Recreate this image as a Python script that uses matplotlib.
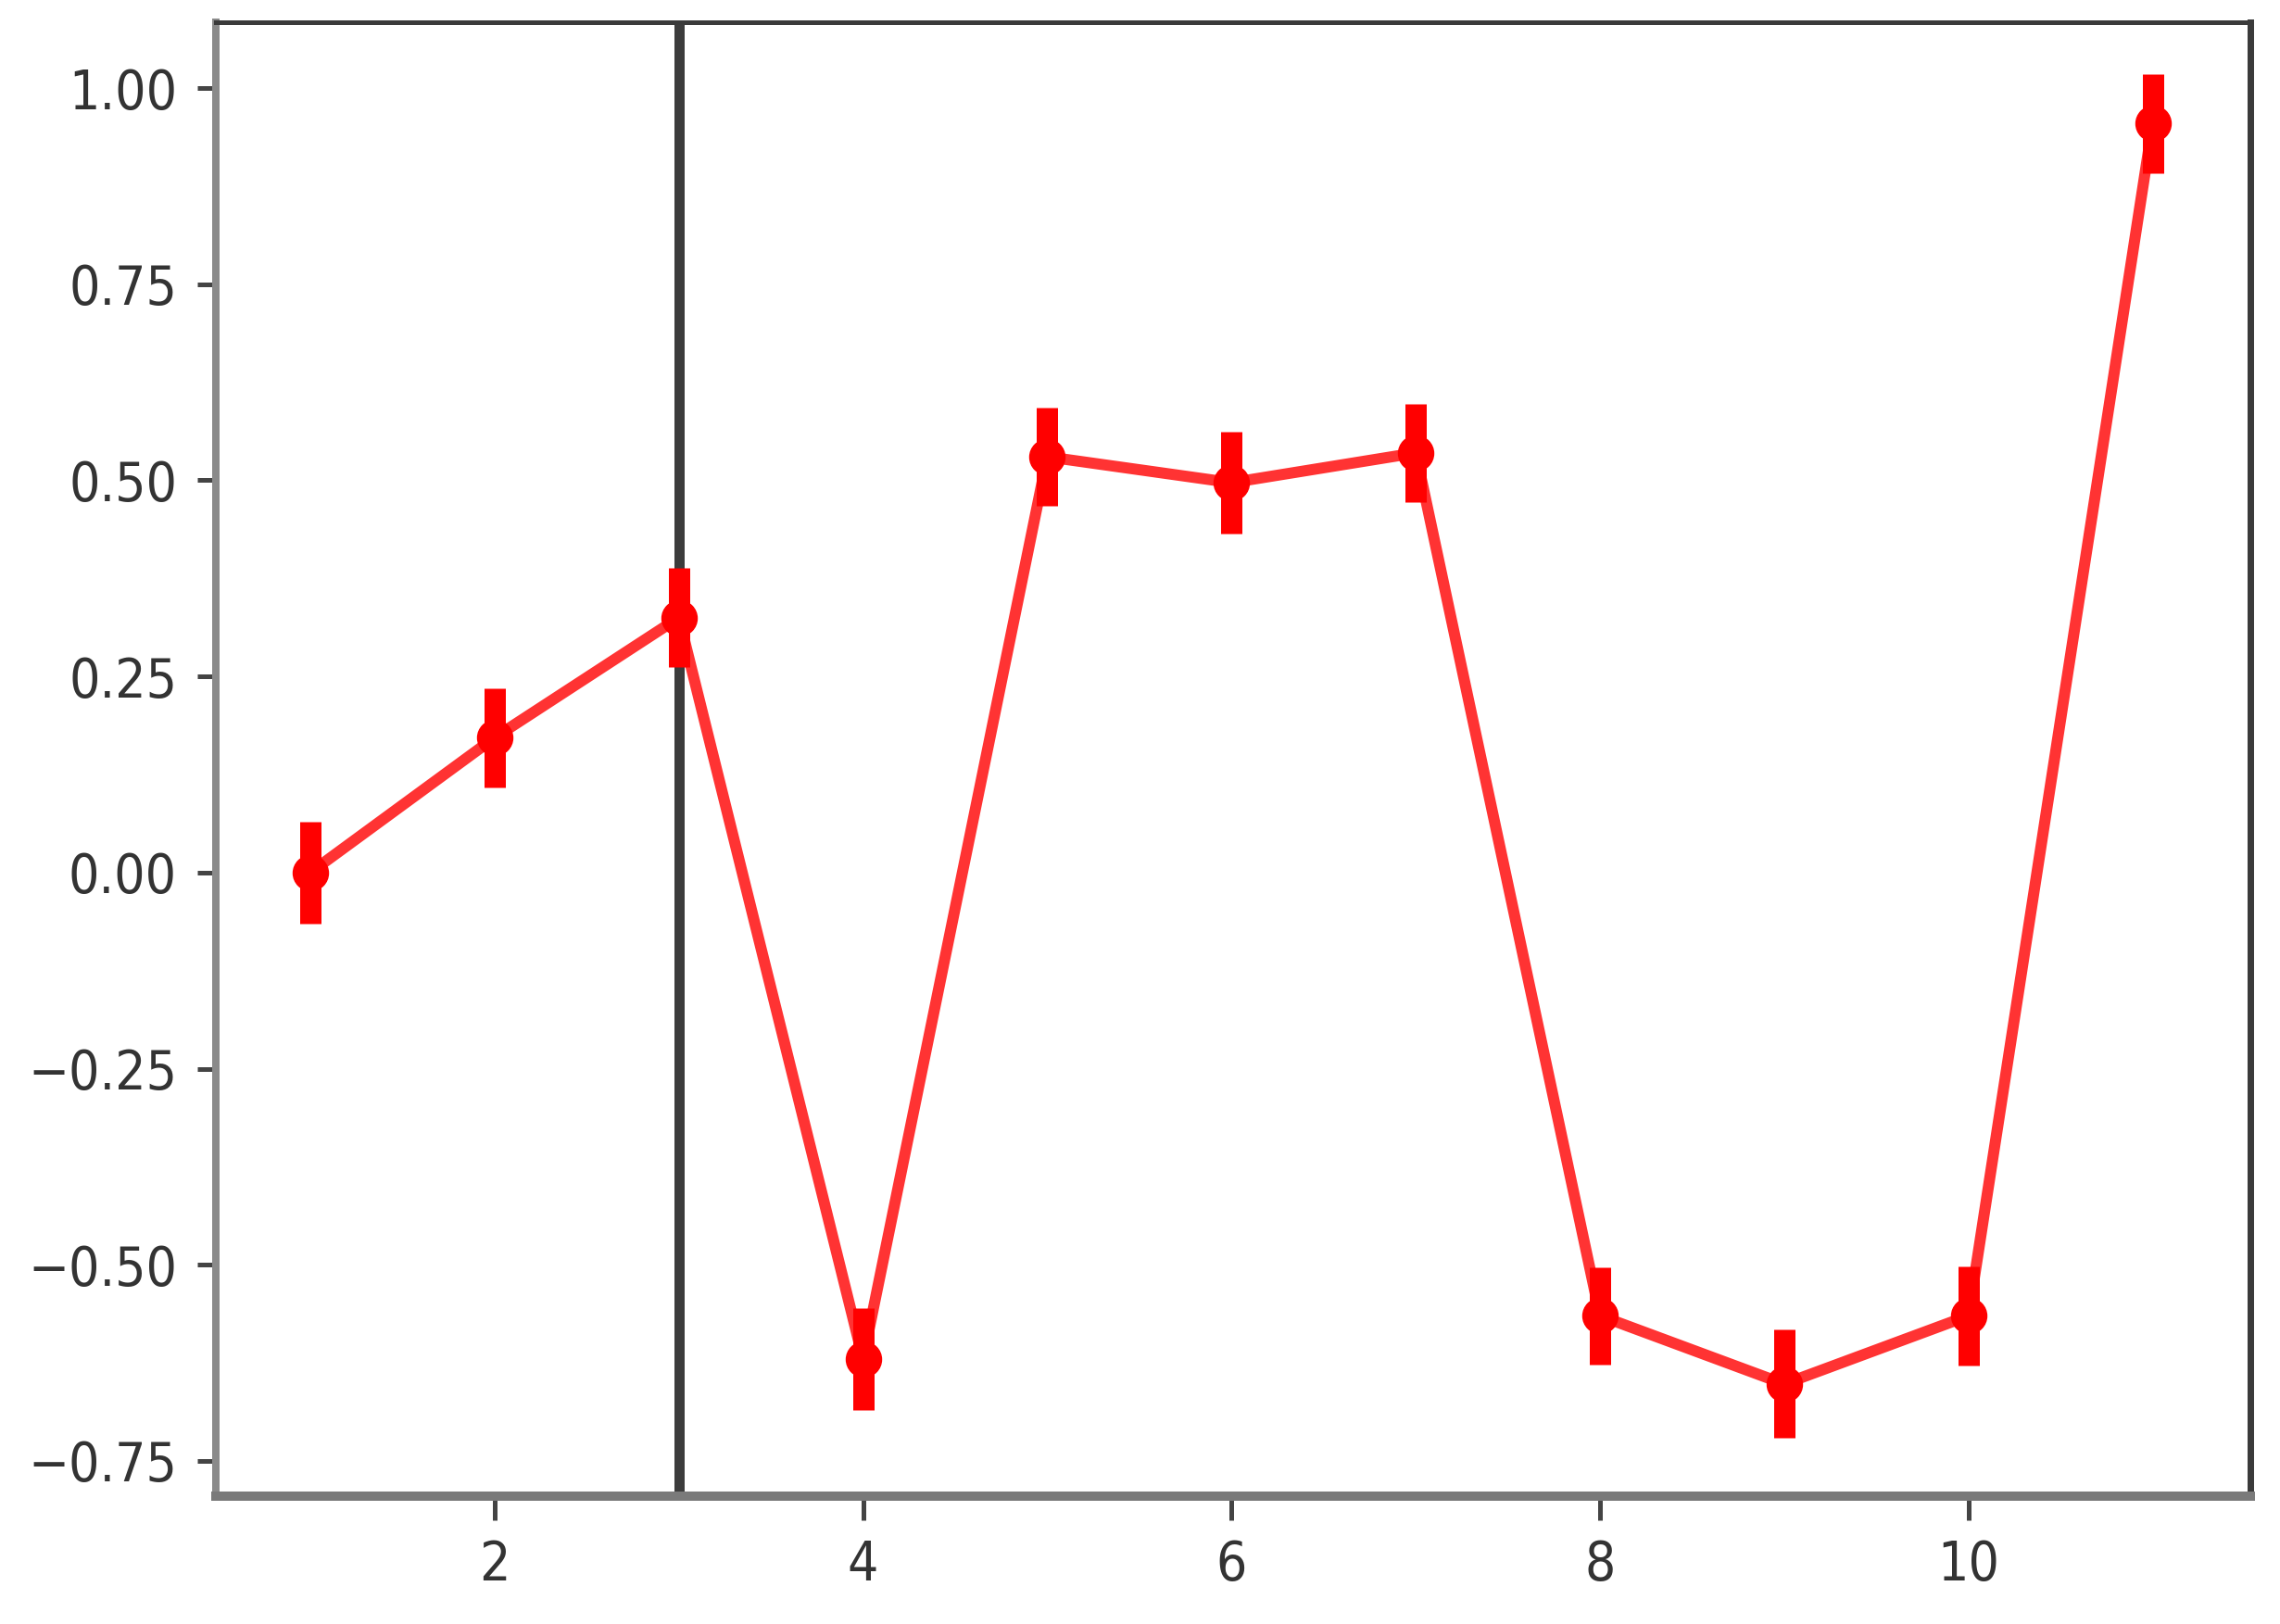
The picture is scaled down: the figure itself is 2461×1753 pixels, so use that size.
import matplotlib
matplotlib.use("Agg")
import matplotlib.pyplot as plt

x_vals = [1, 2, 3, 4, 5, 6, 7, 8, 9, 10, 11]
y_vals = [0.00, 0.172, 0.325, -0.62, 0.53, 0.497, 0.535, -0.565, -0.652, -0.565, 0.955]
y_err = [0.065, 0.063, 0.063, 0.065, 0.063, 0.065, 0.063, 0.062, 0.069, 0.063, 0.063]
vline_x = 3
y_ticks = [-0.75, -0.50, -0.25, 0.00, 0.25, 0.50, 0.75, 1.00]
x_ticks = [2, 4, 6, 8, 10]

W, H, DPI = 2461, 1753, 100
fig = plt.figure(figsize=(W / DPI, H / DPI), dpi=DPI)
ax = fig.add_axes([233 / W, 1 - 1615 / H, (2429 - 233) / W, (1615 - 24) / H])

px = 72.0 / DPI  # points per pixel

ax.plot(x_vals, y_vals, color='#ff0000', lw=12 * px, alpha=0.8, zorder=3,
        solid_capstyle='round')
ax.errorbar(x_vals, y_vals, yerr=y_err, fmt='none', ecolor='#ff0000',
            elinewidth=23 * px, capsize=0, zorder=4)
ax.plot(x_vals, y_vals, 'o', color='#ff0000', ms=38 * px, mec='#ff0000',
        zorder=5)
ax.axvline(vline_x, color='#3c3c3c', lw=11 * px, zorder=2)

ax.set_xlim(0.487, 11.53)
ax.set_ylim(-0.795, 1.084)
ax.set_xticks(x_ticks)
ax.set_yticks(y_ticks)
ax.set_yticklabels([f"{v:.2f}".replace('-', '\u2212') for v in y_ticks])
ax.set_xticklabels([str(v) for v in x_ticks])

for lab in ax.get_xticklabels() + ax.get_yticklabels():
    lab.set_fontsize(42)
    lab.set_color('#333333')
    lab.set_fontstretch('condensed')

ax.tick_params(axis='y', length=20 * px, width=5 * px, color='#444444',
               pad=22 * px)
ax.tick_params(axis='x', length=26 * px, width=5 * px, color='#444444',
               pad=20 * px)

ax.spines['top'].set_color('#3a3a3a')
ax.spines['top'].set_linewidth(5 * px)
ax.spines['right'].set_color('#3a3a3a')
ax.spines['right'].set_linewidth(7 * px)
ax.spines['left'].set_color('#8a8a8a')
ax.spines['left'].set_linewidth(8 * px)
ax.spines['bottom'].set_color('#7a7a7a')
ax.spines['bottom'].set_linewidth(10 * px)

fig.savefig('out.png', dpi=DPI, facecolor='white')
